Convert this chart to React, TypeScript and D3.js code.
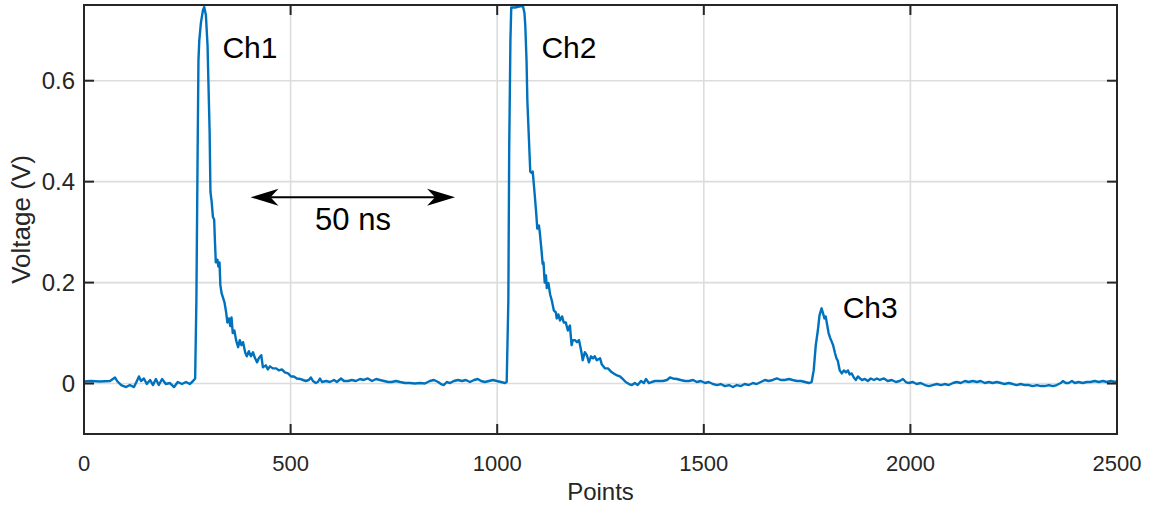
import React from "react";
import * as d3 from "d3";

const samplePoints = [
  0, 15, 39, 63, 75, 80, 90, 102, 111, 121, 128, 133, 138, 145, 152, 160, 167, 174, 181, 189,
  198, 208, 218, 227, 237, 247, 256, 264, 269, 272, 275, 277, 279, 283, 288, 291, 295, 299, 301, 304,
  306, 309, 312, 315, 317, 319, 323, 325, 328, 330, 333, 336, 340, 344, 347, 351, 354, 357, 360, 364,
  368, 373, 377, 381, 385, 390, 394, 399, 404, 409, 414, 419, 423, 429, 433, 440, 445, 450, 457, 465,
  472, 479, 486, 494, 501, 508, 515, 523, 530, 537, 544, 549, 554, 561, 566, 571, 576, 586, 595, 605,
  612, 622, 629, 639, 648, 658, 668, 677, 687, 697, 707, 716, 726, 736, 745, 755, 765, 777, 789, 801,
  813, 825, 837, 847, 857, 864, 871, 878, 886, 895, 905, 915, 924, 934, 944, 953, 961, 970, 980, 990,
  999, 1009, 1019, 1023, 1027, 1029, 1032, 1034, 1043, 1053, 1062, 1066, 1068, 1071, 1073, 1077, 1080, 1084, 1086, 1090,
  1094, 1097, 1101, 1103, 1107, 1110, 1112, 1115, 1118, 1120, 1124, 1128, 1132, 1137, 1142, 1144, 1148, 1152, 1157, 1161,
  1166, 1171, 1176, 1180, 1183, 1188, 1193, 1198, 1203, 1207, 1212, 1217, 1222, 1227, 1232, 1236, 1241, 1249, 1253, 1261,
  1268, 1275, 1282, 1290, 1297, 1304, 1311, 1319, 1326, 1333, 1340, 1348, 1355, 1360, 1367, 1374, 1382, 1391, 1401, 1411,
  1418, 1425, 1435, 1444, 1454, 1464, 1474, 1483, 1493, 1503, 1512, 1522, 1532, 1541, 1551, 1561, 1570, 1580, 1590, 1599,
  1609, 1619, 1628, 1638, 1648, 1657, 1667, 1677, 1686, 1696, 1706, 1715, 1725, 1735, 1745, 1754, 1761, 1766, 1771, 1776,
  1780, 1785, 1788, 1792, 1795, 1799, 1802, 1806, 1810, 1813, 1817, 1821, 1824, 1829, 1834, 1839, 1844, 1849, 1853, 1858,
  1863, 1868, 1873, 1878, 1883, 1890, 1897, 1904, 1912, 1919, 1926, 1936, 1945, 1955, 1965, 1974, 1982, 1989, 1996, 2006,
  2015, 2025, 2035, 2045, 2054, 2064, 2074, 2083, 2093, 2103, 2112, 2122, 2132, 2141, 2151, 2161, 2170, 2180, 2190, 2199,
  2209, 2219, 2228, 2238, 2248, 2257, 2267, 2277, 2287, 2296, 2306, 2316, 2325, 2335, 2345, 2354, 2364, 2369, 2376, 2383,
  2391, 2398, 2407, 2417, 2427, 2436, 2446, 2456, 2466, 2475, 2485, 2495, 2500,
];

const voltage = [
  0.004, 0.005, 0.004, 0.005, 0.012, 0.005, -0.003, -0.007, -0.003, -0.007, 0.005, 0.014, 0.005, 0.010, -0.001, 0.007, -0.003, 0.009, -0.003, 0.009,
  -0.001, 0.001, -0.007, 0.003, -0.001, 0.003, -0.001, 0.005, 0.010, 0.165, 0.46, 0.64, 0.68, 0.715, 0.74, 0.746, 0.73, 0.67, 0.60, 0.50,
  0.38, 0.36, 0.33, 0.325, 0.28, 0.24, 0.245, 0.232, 0.24, 0.195, 0.179, 0.171, 0.161, 0.141, 0.121, 0.129, 0.114, 0.131, 0.100, 0.105,
  0.086, 0.072, 0.086, 0.076, 0.082, 0.062, 0.054, 0.064, 0.054, 0.062, 0.050, 0.042, 0.050, 0.056, 0.032, 0.036, 0.028, 0.034, 0.030, 0.030,
  0.026, 0.028, 0.022, 0.020, 0.014, 0.014, 0.010, 0.009, 0.007, 0.005, 0.007, 0.012, 0.005, 0.001, 0.003, 0.010, 0.003, 0.005, 0.003, 0.007,
  0.003, 0.010, 0.005, 0.005, 0.007, 0.005, 0.009, 0.007, 0.010, 0.005, 0.009, 0.007, 0.005, 0.003, 0.003, 0.005, 0.003, 0.001, 0.001, 0.000,
  0.001, 0.000, 0.005, 0.007, 0.003, -0.001, -0.003, 0.003, 0.001, 0.005, 0.007, 0.005, 0.007, 0.003, 0.007, 0.009, 0.005, 0.003, 0.005, 0.007,
  0.005, 0.003, 0.001, 0.003, 0.165, 0.46, 0.68, 0.745, 0.745, 0.747, 0.749, 0.734, 0.709, 0.64, 0.56, 0.48, 0.42, 0.417, 0.42, 0.382,
  0.342, 0.307, 0.313, 0.300, 0.266, 0.237, 0.240, 0.200, 0.214, 0.189, 0.199, 0.177, 0.165, 0.145, 0.141, 0.129, 0.137, 0.125, 0.133, 0.121,
  0.121, 0.105, 0.115, 0.076, 0.086, 0.086, 0.082, 0.086, 0.066, 0.046, 0.062, 0.056, 0.042, 0.054, 0.050, 0.054, 0.046, 0.050, 0.038, 0.030,
  0.030, 0.024, 0.020, 0.016, 0.014, 0.009, 0.003, -0.001, -0.003, 0.001, -0.003, 0.005, 0.001, 0.009, 0.001, 0.003, 0.005, 0.005, 0.005, 0.007,
  0.012, 0.010, 0.009, 0.007, 0.005, 0.005, 0.007, 0.003, 0.005, 0.001, 0.003, -0.001, -0.003, -0.001, -0.005, -0.003, -0.007, -0.003, -0.005, -0.001,
  -0.003, 0.001, -0.001, 0.003, 0.007, 0.005, 0.007, 0.010, 0.007, 0.007, 0.009, 0.007, 0.005, 0.005, 0.003, 0.001, 0.003, 0.026, 0.076, 0.105,
  0.135, 0.149, 0.141, 0.129, 0.133, 0.114, 0.100, 0.090, 0.082, 0.076, 0.062, 0.050, 0.046, 0.026, 0.020, 0.026, 0.022, 0.026, 0.018, 0.020,
  0.012, 0.007, 0.014, 0.010, 0.007, 0.009, 0.005, 0.010, 0.007, 0.010, 0.007, 0.010, 0.005, 0.007, 0.003, 0.005, 0.009, 0.003, 0.001, 0.003,
  -0.001, 0.001, -0.003, -0.005, -0.003, -0.001, -0.003, -0.001, -0.003, 0.001, 0.003, 0.001, 0.005, 0.003, 0.005, 0.003, 0.005, 0.001, 0.003, 0.001,
  0.003, 0.001, -0.001, 0.001, -0.001, -0.003, -0.001, -0.003, -0.003, -0.005, -0.003, -0.005, -0.005, -0.003, -0.005, -0.003, 0.001, 0.005, 0.001, 0.001,
  0.005, 0.001, 0.003, 0.001, 0.003, 0.003, 0.005, 0.003, 0.005, 0.003, 0.005, 0.003, 0.005,
];

const xTicks = [0, 500, 1000, 1500, 2000, 2500];
const yTicks = [0, 0.2, 0.4, 0.6];

const channelLabels = [
  { text: "Ch1", x: 335, y: 0.665 },
  { text: "Ch2", x: 1107, y: 0.665 },
  { text: "Ch3", x: 1836, y: 0.15 },
];

// Double-headed span marker: 500 points = 50 ns
const spanStart = 403;
const spanEnd = 898;
const spanLevel = 0.369;
const spanText = { text: "50 ns", x: 651, y: 0.325 };

const W = 1152;
const H = 509;
const margin = { left: 84, right: 35, top: 5, bottom: 75 };
const FONT = "'Liberation Sans', Arial, Helvetica, sans-serif";
const AXIS = "#262626";
const LINE = "#0072BD";

export default function App() {
  const x = d3
    .scaleLinear()
    .domain([0, 2500])
    .range([margin.left, W - margin.right]);
  const y = d3
    .scaleLinear()
    .domain([-0.1, 0.75])
    .range([H - margin.bottom, margin.top]);

  const trace = samplePoints.map((p, i) => [p, voltage[i]] as [number, number]);
  const line = d3
    .line<[number, number]>()
    .x((d) => x(d[0]))
    .y((d) => y(d[1]));

  const [x0, x1] = x.range();
  const [yb, yt] = y.range();
  const tickLen = 10;

  const ax0 = x(spanStart);
  const ax1 = x(spanEnd);
  const ay = y(spanLevel);
  const headL = 28;
  const headW = 8.5;
  const notch = 8;

  const leftHead = `M${ax0},${ay} L${ax0 + headL},${ay - headW} L${ax0 + headL - notch},${ay} L${ax0 + headL},${ay + headW} Z`;
  const rightHead = `M${ax1},${ay} L${ax1 - headL},${ay - headW} L${ax1 - headL + notch},${ay} L${ax1 - headL},${ay + headW} Z`;

  return (
    <svg
      width={W}
      height={H}
      style={{ position: "absolute", left: 0, top: 0, background: "#fff" }}
      fontFamily={FONT}
    >
      <defs>
        <clipPath id="plot-clip">
          <rect x={x0} y={yt} width={x1 - x0} height={yb - yt} />
        </clipPath>
      </defs>

      {/* grid */}
      <g stroke="#dcdcdc" strokeWidth={1.6}>
        {xTicks.slice(1, -1).map((t) => (
          <line key={`gx${t}`} x1={x(t)} x2={x(t)} y1={yt} y2={yb} />
        ))}
        {yTicks.map((t) => (
          <line key={`gy${t}`} x1={x0} x2={x1} y1={y(t)} y2={y(t)} />
        ))}
      </g>

      {/* trace */}
      <path
        d={line(trace) ?? ""}
        fill="none"
        stroke={LINE}
        strokeWidth={2.4}
        strokeLinejoin="round"
        clipPath="url(#plot-clip)"
      />

      {/* box and inward ticks */}
      <g stroke={AXIS} strokeWidth={2}>
        <rect x={x0} y={yt} width={x1 - x0} height={yb - yt} fill="none" />
        {xTicks.map((t) => (
          <g key={`tx${t}`}>
            <line x1={x(t)} x2={x(t)} y1={yb} y2={yb - tickLen} />
            <line x1={x(t)} x2={x(t)} y1={yt} y2={yt + tickLen} />
          </g>
        ))}
        {yTicks.map((t) => (
          <g key={`ty${t}`}>
            <line x1={x0} x2={x0 + tickLen} y1={y(t)} y2={y(t)} />
            <line x1={x1} x2={x1 - tickLen} y1={y(t)} y2={y(t)} />
          </g>
        ))}
      </g>

      {/* tick labels */}
      <g fill={AXIS}>
        {xTicks.map((t) => (
          <text key={`lx${t}`} x={x(t)} y={yb + 37} textAnchor="middle" fontSize={22}>
            {t}
          </text>
        ))}
        {yTicks.map((t) => (
          <text key={`ly${t}`} x={x0 - 9} y={y(t)} dy="0.35em" textAnchor="end" fontSize={24}>
            {t === 0 ? "0" : t.toFixed(1)}
          </text>
        ))}
      </g>

      {/* axis titles */}
      <text x={(x0 + x1) / 2} y={yb + 66} textAnchor="middle" fontSize={24} fill={AXIS}>
        Points
      </text>
      <text
        transform={`translate(${30},${(yt + yb) / 2}) rotate(-90)`}
        textAnchor="middle"
        fontSize={26}
        fill={AXIS}
      >
        Voltage (V)
      </text>

      {/* channel labels */}
      <g fontSize={30} fill="#000">
        {channelLabels.map((c) => (
          <text key={c.text} x={x(c.x)} y={y(c.y)} dy="0.35em">
            {c.text}
          </text>
        ))}
        <text x={x(spanText.x)} y={y(spanText.y)} dy="0.35em" textAnchor="middle" fontSize={31}>
          {spanText.text}
        </text>
      </g>

      {/* span arrow */}
      <line x1={ax0 + headL - notch} x2={ax1 - headL + notch} y1={ay} y2={ay} stroke="#000" strokeWidth={2} />
      <path d={leftHead} fill="#000" />
      <path d={rightHead} fill="#000" />
    </svg>
  );
}
